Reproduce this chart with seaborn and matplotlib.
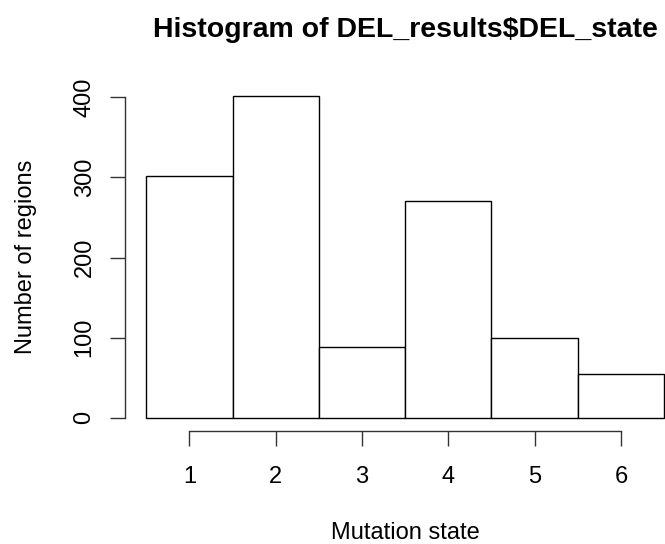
import numpy as np
import pandas as pd
import matplotlib
matplotlib.use("Agg")
import matplotlib.pyplot as plt
import seaborn as sns

# counts per mutation state
states = [1, 2, 3, 4, 5, 6]
counts = [302, 402, 88, 271, 100, 55]
x_ticks = [1, 2, 3, 4, 5, 6]
y_ticks = [0, 100, 200, 300, 400]

df = pd.DataFrame({"state": states, "n": counts})

sns.set_style("white")
plt.rcParams["font.family"] = ["Liberation Sans", "DejaVu Sans"]
plt.rcParams["text.color"] = "black"
plt.rcParams["axes.labelcolor"] = "black"
plt.rcParams["xtick.color"] = "black"
plt.rcParams["ytick.color"] = "black"

fig = plt.figure(figsize=(6.65, 5.44), dpi=100)
ax = fig.add_axes([0.1887, 0.2081, 0.841, 0.6397])

sns.histplot(data=df, x="state", weights="n", discrete=True,
             color="white", edgecolor="black", linewidth=1.0, alpha=1, ax=ax)

ax.set_xlim(0.26, 6.74)
ax.set_ylim(-16.08, 418.08)

for s in ["top", "right"]:
    ax.spines[s].set_visible(False)
ax.spines["left"].set_bounds(0, 400)
ax.spines["bottom"].set_bounds(1, 6)
for s in ["left", "bottom"]:
    ax.spines[s].set_color("#333333")
    ax.spines[s].set_linewidth(1.0)

ax.set_xticks(x_ticks)
ax.set_yticks(y_ticks)
ax.tick_params(axis="both", direction="out", length=10.5, width=1.0,
               color="#333333", labelsize=17, bottom=True, left=True)
ax.tick_params(axis="x", pad=15)
ax.tick_params(axis="y", pad=11)
plt.setp(ax.get_yticklabels(), rotation=90, va="center")

ax.set_xlabel("Mutation state", fontsize=17)
ax.set_ylabel("Number of regions", fontsize=17)
ax.xaxis.set_label_coords(0.5, -0.262)
ax.yaxis.set_label_coords(-0.158, 0.5)
fig.text(0.609, 1 - 37 / 544, "Histogram of DEL_results$DEL_state",
         ha="center", va="baseline", fontsize=20.5, fontweight="bold")

fig.savefig("out.png", dpi=100)
